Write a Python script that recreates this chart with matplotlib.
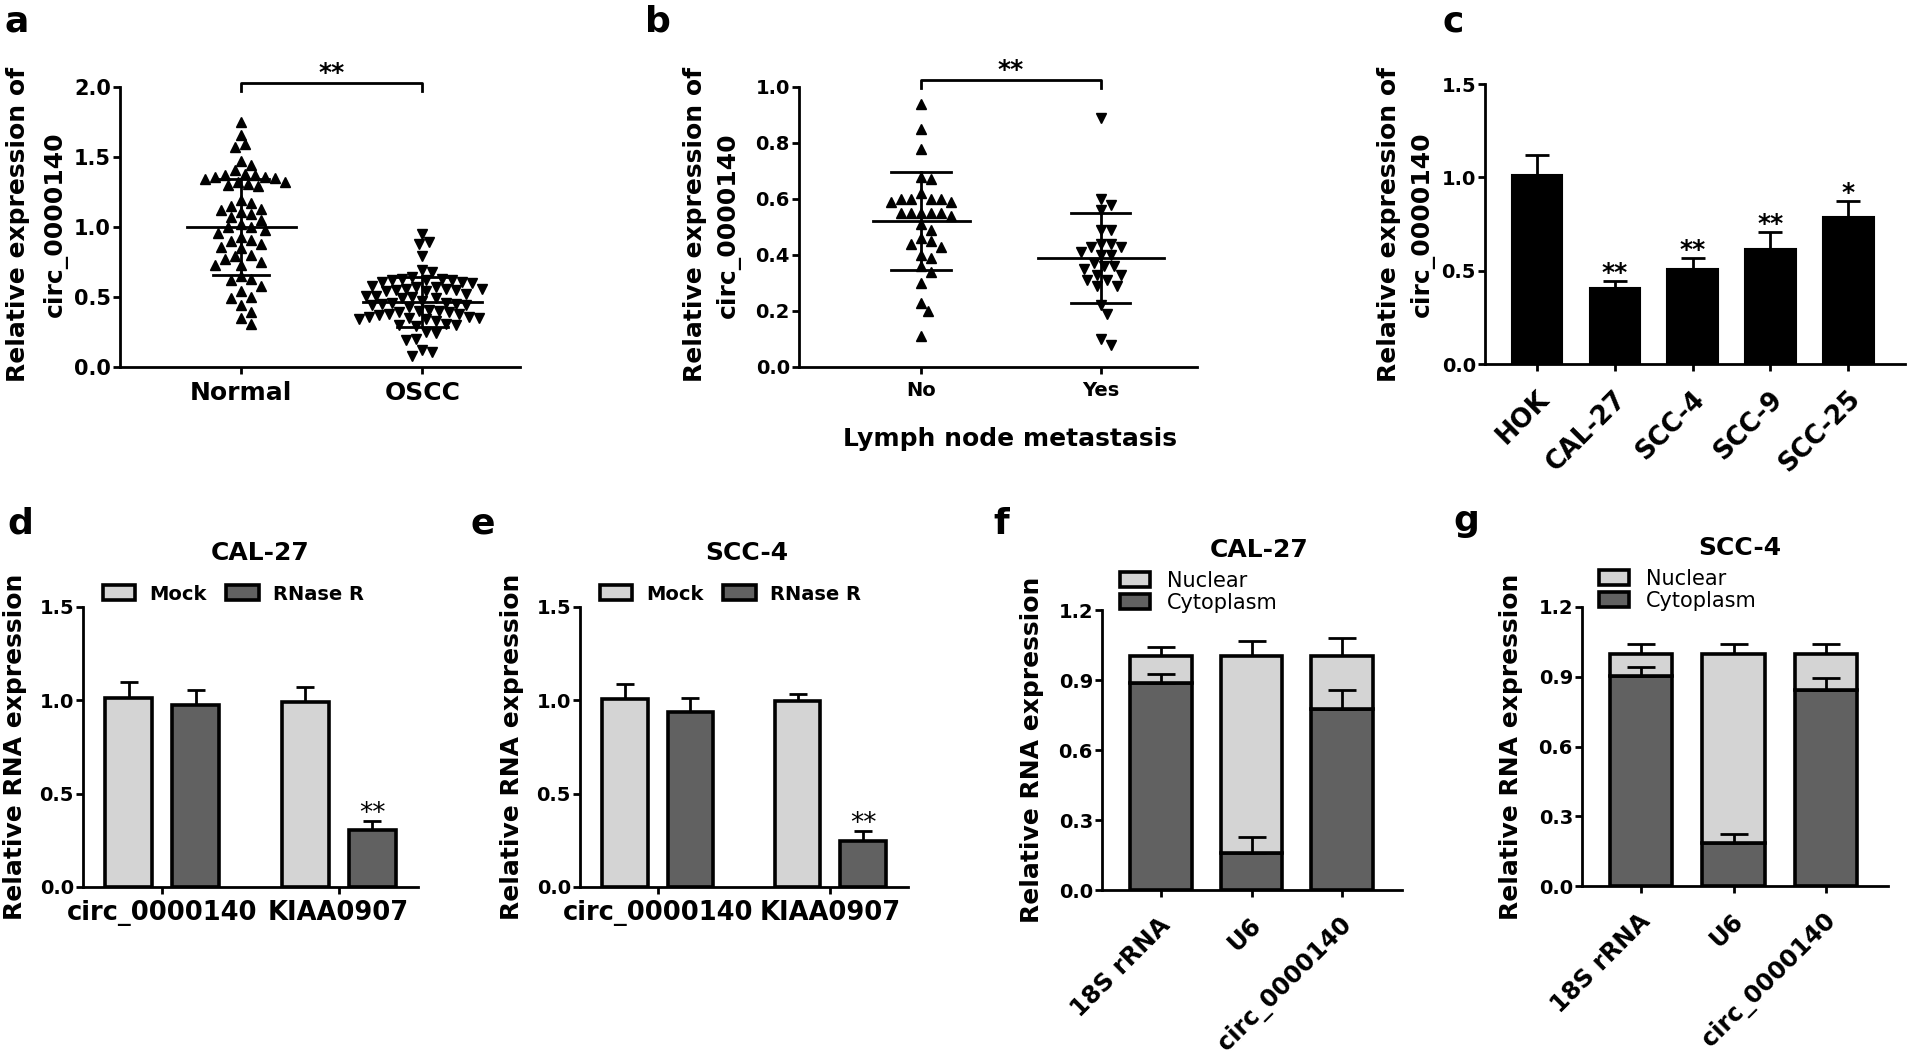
import numpy as np
import matplotlib
matplotlib.use('Agg')
import matplotlib.pyplot as plt
from matplotlib.patches import Patch
from matplotlib.ticker import FormatStrFormatter
from matplotlib.transforms import ScaledTranslation

# ---- data ----
# a: scatter, Normal vs OSCC
a_groups = ['Normal', 'OSCC']
a_normal = [1.75, 1.66, 1.59, 1.57, 1.47, 1.44, 1.41, 1.38, 1.37, 1.37, 1.36, 1.36, 1.35,
            1.34, 1.32, 1.32, 1.31, 1.30, 1.29, 1.19, 1.17, 1.15, 1.13, 1.12, 1.11, 1.09,
            1.07, 1.05, 1.02, 1.00, 1.00, 0.98, 0.96, 0.93, 0.91, 0.90, 0.88, 0.86, 0.85,
            0.80, 0.79, 0.77, 0.75, 0.73, 0.73, 0.65, 0.63, 0.62, 0.58, 0.54, 0.50, 0.49,
            0.44, 0.39, 0.35, 0.31]
a_oscc = [0.95, 0.89, 0.88, 0.79, 0.69, 0.68,
          0.64, 0.63, 0.63, 0.62, 0.62, 0.62, 0.61, 0.61, 0.60,
          0.58, 0.57, 0.57, 0.56, 0.56, 0.56, 0.55, 0.55, 0.54, 0.54,
          0.52, 0.51, 0.51, 0.50, 0.49, 0.49,
          0.47, 0.46, 0.46, 0.45, 0.45, 0.44, 0.44, 0.43,
          0.41, 0.40, 0.40, 0.39, 0.39, 0.38, 0.38, 0.37,
          0.36, 0.36, 0.35, 0.35, 0.34, 0.34, 0.33,
          0.31, 0.30, 0.30, 0.29, 0.25, 0.24, 0.20, 0.19, 0.12, 0.11, 0.08]
a_mean = [1.00, 0.465]
a_sd = [0.345, 0.18]

# b: scatter, lymph node metastasis
b_groups = ['No', 'Yes']
b_no = [0.94, 0.85, 0.78, 0.68, 0.67, 0.62, 0.60, 0.60, 0.60, 0.60, 0.59, 0.59, 0.55,
        0.55, 0.55, 0.55, 0.55, 0.54, 0.51, 0.49, 0.46, 0.45, 0.44, 0.43, 0.40, 0.39,
        0.36, 0.34, 0.30, 0.23, 0.20, 0.11]
b_yes = [0.89, 0.60, 0.58, 0.56, 0.49, 0.49, 0.44, 0.44, 0.43, 0.43, 0.41, 0.40, 0.40,
         0.37, 0.36, 0.36, 0.35, 0.33, 0.33, 0.31, 0.31, 0.29, 0.29, 0.22, 0.19, 0.10, 0.08]
b_mean = [0.52, 0.39]
b_sd = [0.175, 0.16]

# c: cell lines
c_lines = ['HOK', 'CAL-27', 'SCC-4', 'SCC-9', 'SCC-25']
c_vals = [1.01, 0.405, 0.51, 0.615, 0.785]
c_err = [0.11, 0.04, 0.06, 0.09, 0.09]
c_sig = ['', '**', '**', '**', '*']

# d, e: RNase R
de_genes = ['circ_0000140', 'KIAA0907']
de_treat = ['Mock', 'RNase R']
d_mock = [1.015, 0.99]
d_mock_err = [0.085, 0.08]
d_rnase = [0.977, 0.305]
d_rnase_err = [0.077, 0.05]
e_mock = [1.007, 0.995]
e_mock_err = [0.083, 0.039]
e_rnase = [0.937, 0.247]
e_rnase_err = [0.073, 0.053]

# f, g: nuclear / cytoplasm fractions
fg_rna = ['18S rRNA', 'U6', 'circ_0000140']
fg_parts = ['Nuclear', 'Cytoplasm']
f_cyto = [0.886, 0.16, 0.774]
f_cyto_err = [0.038, 0.069, 0.083]
f_nuc = [0.118, 0.844, 0.23]
f_nuc_err = [0.036, 0.063, 0.075]
g_cyto = [0.904, 0.183, 0.845]
g_cyto_err = [0.039, 0.039, 0.048]
g_nuc = [0.096, 0.817, 0.155]
g_nuc_err = [0.039, 0.039, 0.043]

LIGHT = '#d4d4d4'
DARK = '#616161'

plt.rcParams['font.family'] = ['DejaVu Sans']
plt.rcParams['font.weight'] = 'bold'
plt.rcParams['axes.labelweight'] = 'bold'

W, H = 1909, 1058
fig = plt.figure(figsize=(W / 100, H / 100), dpi=100)


def add_ax(l, t, r, b):
    return fig.add_axes([l / W, 1 - b / H, (r - l) / W, (b - t) / H])


def style(ax, size=14, pad=1.5):
    for s in ['top', 'right']:
        ax.spines[s].set_visible(False)
    for s in ['left', 'bottom']:
        ax.spines[s].set_linewidth(2)
    ax.tick_params(width=2, length=5, labelsize=size)
    ax.tick_params(axis='y', pad=pad)
    ax.yaxis.set_major_formatter(FormatStrFormatter('%.1f'))


def fx(px):
    return px / W


def fy(py):
    return 1 - py / H


def nudge(labels, dx, dy):
    # shift rotated tick labels by a few pixels
    for lab in labels:
        lab.set_transform(lab.get_transform() + ScaledTranslation(dx / 100, -dy / 100, fig.dpi_scale_trans))


def swarm(ax, values, center, diam):
    vals = np.asarray(values, float)
    T = ax.transData
    ypx = T.transform(np.column_stack([np.full(len(vals), center), vals]))[:, 1]
    xunit = T.transform((1, 0))[0] - T.transform((0, 0))[0]
    placed = []
    offs = np.zeros(len(vals))
    step = diam / 3
    for i in np.argsort(-vals):
        k = 0
        while True:
            cands = [0.0] if k == 0 else [k * step, -k * step]
            ok = None
            for c in cands:
                if all((c - px) ** 2 + (ypx[i] - py) ** 2 >= diam ** 2 for px, py in placed):
                    ok = c
                    break
            if ok is not None:
                offs[i] = ok
                placed.append((ok, ypx[i]))
                break
            k += 1
    return center + offs / xunit


def mean_sd(ax, x, m, s, half=0.3, cap=0.15):
    ax.plot([x - half, x + half], [m, m], 'k', lw=2, zorder=2)
    ax.plot([x, x], [m - s, m + s], 'k', lw=2, zorder=2)
    for v in (m - s, m + s):
        ax.plot([x - cap, x + cap], [v, v], 'k', lw=2, zorder=2)


def bracket(ax, x0, x1, y, tip, text):
    ax.plot([x0, x0, x1, x1], [y - tip, y, y, y - tip], 'k', lw=2, clip_on=False)
    ax.text((x0 + x1) / 2, y + tip * 0.3, text, ha='center', va='baseline', fontsize=18)


# ---------------- a ----------------
ax = add_ax(120, 87, 520, 367)
style(ax, 15)
ax.set_xlim(-0.67, 1.54)
ax.set_ylim(0, 2.0)
ax.set_yticks([0, 0.5, 1.0, 1.5, 2.0])
ax.set_xticks([0, 1])
ax.set_xticklabels(a_groups, fontsize=18)
ax.tick_params(axis='x', pad=5)
ax.plot(swarm(ax, a_normal, 0, 10), a_normal, '^', color='k', ms=7, ls='none', clip_on=False, zorder=3)
ax.plot(swarm(ax, a_oscc, 1, 10), a_oscc, 'v', color='k', ms=7, ls='none', clip_on=False, zorder=3)
mean_sd(ax, 0, a_mean[0], a_sd[0], half=0.3, cap=0.155)
mean_sd(ax, 1, a_mean[1], a_sd[1], half=0.33, cap=0.14)
bracket(ax, 0, 1, 2.03, 0.06, '**')
fig.text(fx(37), fy(224), 'Relative expression of\ncirc_0000140', rotation=90,
         ha='center', va='center', fontsize=18, linespacing=1.7, multialignment='center')
fig.text(fx(5), fy(32), 'a', fontsize=26, va='baseline')

# ---------------- b ----------------
ax = add_ax(799, 87, 1197, 367)
style(ax, 14)
ax.set_xlim(-0.68, 1.536)
ax.set_ylim(0, 1.0)
ax.set_yticks([0, 0.2, 0.4, 0.6, 0.8, 1.0])
ax.set_xticks([0, 1])
ax.set_xticklabels(b_groups, fontsize=14)
ax.tick_params(axis='x', pad=5)
ax.plot(swarm(ax, b_no, 0, 10), b_no, '^', color='k', ms=7, ls='none', clip_on=False, zorder=3)
ax.plot(swarm(ax, b_yes, 1, 10), b_yes, 'v', color='k', ms=7, ls='none', clip_on=False, zorder=3)
mean_sd(ax, 0, b_mean[0], b_sd[0], half=0.27, cap=0.165)
mean_sd(ax, 1, b_mean[1], b_sd[1], half=0.35, cap=0.165)
bracket(ax, 0, 1, 1.025, 0.03, '**')
fig.text(fx(1010), fy(439), 'Lymph node metastasis', ha='center', va='center', fontsize=18)
fig.text(fx(712), fy(225), 'Relative expression of\ncirc_0000140', rotation=90,
         ha='center', va='center', fontsize=18, linespacing=1.48, multialignment='center')
fig.text(fx(645), fy(32), 'b', fontsize=26, va='baseline')

# ---------------- c ----------------
ax = add_ax(1485, 84, 1905, 364)
style(ax, 14)
ax.set_xlim(-0.67, 4.73)
ax.set_ylim(0, 1.5)
ax.set_yticks([0, 0.5, 1.0, 1.5])
xc = np.arange(len(c_lines))
ax.bar(xc, c_vals, width=0.65, color='k', edgecolor='k', lw=1.5)
ax.errorbar(xc, c_vals, yerr=[np.zeros(len(xc)), c_err], fmt='none', ecolor='k',
            elinewidth=2, capsize=8.5, capthick=2)
for x, v, e, s in zip(xc, c_vals, c_err, c_sig):
    ax.text(x, v + e + 0.005, s, ha='center', va='baseline', fontsize=18)
ax.set_xticks(xc)
ax.set_xticklabels(c_lines, fontsize=18.5, rotation=45, ha='right', va='center',
                   rotation_mode='anchor')
ax.tick_params(axis='x', pad=14)
nudge(ax.get_xticklabels(), 8, 5)
fig.text(fx(1406), fy(224), 'Relative expression of\ncirc_0000140', rotation=90,
         ha='center', va='center', fontsize=18, linespacing=1.44, multialignment='center')
fig.text(fx(1443), fy(32), 'c', fontsize=26, va='baseline')


# ---------------- d, e ----------------
def grouped(ax, mock, mock_err, rnase, rnase_err, title, tx, letter, lx, leg_x, ylx):
    style(ax, 14)
    ax.set_xlim(-0.45, 1.45)
    ax.set_ylim(0, 1.5)
    ax.set_yticks([0, 0.5, 1.0, 1.5])
    xg = np.arange(len(de_genes))
    off, w = 0.19, 0.265
    ax.bar(xg - off, mock, width=w, color=LIGHT, edgecolor='k', lw=2.6, zorder=2)
    ax.bar(xg + off, rnase, width=w, color=DARK, edgecolor='k', lw=2.6, zorder=2)
    ax.errorbar(xg - off, mock, yerr=[np.zeros(2), mock_err], fmt='none', ecolor='k',
                elinewidth=2, capsize=6.5, capthick=2, zorder=1)
    ax.errorbar(xg + off, rnase, yerr=[np.zeros(2), rnase_err], fmt='none', ecolor='k',
                elinewidth=2, capsize=6.5, capthick=2, zorder=1)
    ax.text(1 + off, rnase[1] + rnase_err[1], '**', ha='center', va='baseline',
            fontsize=19, weight='normal')
    ax.set_xticks(xg)
    ax.set_xticklabels(de_genes, fontsize=18.5)
    ax.tick_params(axis='x', pad=4)
    handles = [Patch(facecolor=LIGHT, edgecolor='k', lw=2.6),
               Patch(facecolor=DARK, edgecolor='k', lw=2.6)]
    fig.legend(handles, de_treat, loc='center left', bbox_to_anchor=(fx(leg_x), fy(594)),
               ncol=2, frameon=False, fontsize=14, handlelength=1.65, handleheight=0.8,
               handletextpad=0.75, columnspacing=1.0, borderpad=0, borderaxespad=0)
    fig.text(fx(tx), fy(553), title, ha='center', va='center', fontsize=18)
    fig.text(fx(ylx), fy(747), 'Relative RNA expression', rotation=90,
             ha='center', va='center', fontsize=18)
    fig.text(fx(lx), fy(533), letter, fontsize=26, va='baseline')


grouped(add_ax(83, 607, 418, 887), d_mock, d_mock_err, d_rnase, d_rnase_err,
        'CAL-27', 260, 'd', 7, 103, 15)
grouped(add_ax(580, 607, 908, 887), e_mock, e_mock_err, e_rnase, e_rnase_err,
        'SCC-4', 747, 'e', 470, 600, 512)


# ---------------- f, g ----------------
def stacked(ax, xlim, width, cyto, cyto_err, nuc, nuc_err, title, tx, ty, letter, lx, ly,
            leg_x, leg_y, ylx, yly):
    style(ax, 14)
    ax.set_xlim(*xlim)
    ax.set_ylim(0, 1.2)
    ax.set_yticks([0, 0.3, 0.6, 0.9, 1.2])
    xs = np.arange(len(fg_rna))
    ax.bar(xs, cyto, width=width, color=DARK, edgecolor='k', lw=2.6, zorder=2)
    ax.bar(xs, nuc, bottom=cyto, width=width, color=LIGHT, edgecolor='k', lw=2.6, zorder=2)
    tops = np.array(cyto) + np.array(nuc)
    ax.errorbar(xs, cyto, yerr=[np.zeros(3), cyto_err], fmt='none', ecolor='k',
                elinewidth=2, capsize=10, capthick=2, zorder=3)
    ax.errorbar(xs, tops, yerr=[np.zeros(3), nuc_err], fmt='none', ecolor='k',
                elinewidth=2, capsize=10, capthick=2, zorder=1)
    ax.set_xticks(xs)
    ax.set_xticklabels(fg_rna, fontsize=17.5, rotation=45, ha='right', va='center',
                       rotation_mode='anchor')
    ax.tick_params(axis='x', pad=16)
    nudge(ax.get_xticklabels(), 6, 2)
    handles = [Patch(facecolor=LIGHT, edgecolor='k', lw=2.6),
               Patch(facecolor=DARK, edgecolor='k', lw=2.6)]
    fig.legend(handles, fg_parts, loc='center left',
               bbox_to_anchor=(fx(leg_x), fy(leg_y)), ncol=1, frameon=False,
               prop=dict(size=15, weight='normal'), handlelength=1.45, handleheight=0.72,
               handletextpad=0.8, labelspacing=0.1, borderpad=0, borderaxespad=0)
    fig.text(fx(tx), fy(ty), title, ha='center', va='center', fontsize=18)
    fig.text(fx(ylx), fy(yly), 'Relative RNA expression', rotation=90,
             ha='center', va='center', fontsize=18)
    fig.text(fx(lx), fy(ly), letter, fontsize=26, va='baseline')


stacked(add_ax(1102, 610, 1402, 890), (-0.652, 2.663), 0.685, f_cyto, f_cyto_err, f_nuc, f_nuc_err,
        'CAL-27', 1259, 550, 'f', 993, 534, 1120, 592, 1032, 750)
stacked(add_ax(1582, 607, 1888, 886), (-0.638, 2.67), 0.68, g_cyto, g_cyto_err, g_nuc, g_nuc_err,
        'SCC-4', 1740, 548, 'g', 1453, 531, 1599, 590, 1511, 747)

fig.savefig('out.png', dpi=100)
